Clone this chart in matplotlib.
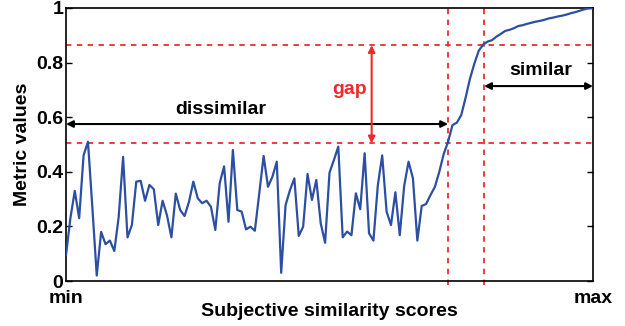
import numpy as np
import matplotlib
matplotlib.use("Agg")
import matplotlib.pyplot as plt

plt.rcParams['font.family'] = ['Liberation Sans', 'DejaVu Sans']
plt.rcParams['font.weight'] = 'bold'

# metric value per sample, sorted by subjective score
metric = [0.095, 0.23, 0.33, 0.23, 0.46, 0.51, 0.27, 0.02, 0.18, 0.135,
          0.148, 0.11, 0.235, 0.455, 0.16, 0.205, 0.364, 0.367, 0.294, 0.352,
          0.336, 0.205, 0.294, 0.24, 0.16, 0.32, 0.26, 0.238, 0.29, 0.364,
          0.303, 0.285, 0.294, 0.272, 0.187, 0.358, 0.42, 0.217, 0.48, 0.26,
          0.254, 0.189, 0.199, 0.184, 0.32, 0.458, 0.345, 0.382, 0.437, 0.03,
          0.278, 0.333, 0.376, 0.165, 0.199, 0.392, 0.297, 0.37, 0.211, 0.14,
          0.397, 0.443, 0.492, 0.16, 0.181, 0.168, 0.321, 0.263, 0.468, 0.175,
          0.148, 0.35, 0.46, 0.254, 0.205, 0.325, 0.168, 0.348, 0.437, 0.376,
          0.148, 0.275, 0.282, 0.315, 0.345, 0.40, 0.465, 0.51, 0.571, 0.58,
          0.608, 0.672, 0.742, 0.797, 0.844, 0.866, 0.877, 0.882, 0.895, 0.905,
          0.916, 0.92, 0.926, 0.934, 0.937, 0.942, 0.946, 0.95, 0.953, 0.957,
          0.962, 0.965, 0.969, 0.972, 0.976, 0.981, 0.985, 0.99, 0.995, 0.999,
          1.0]

x = np.arange(len(metric))
xmax = len(metric) - 1

# thresholds
low_thr = 0.504
high_thr = 0.864
x_low = 87
x_high = 95.2
gap_x = 69.6
dis_y = 0.575
sim_y = 0.714

blue = '#2c4fa3'
red = '#ee2b2b'

fig = plt.figure(figsize=(6.25, 3.26), dpi=100)
ax = fig.add_axes([0.1056, 0.138, 0.8432, 0.8375])

ax.plot(x, metric, color=blue, lw=1.6, zorder=3)

dash = (0, (3, 3))
ax.axhline(low_thr, color=red, lw=1.3, ls=dash)
ax.axhline(high_thr, color=red, lw=1.3, ls=dash)
ax.axvline(x_low, ymin=-0.015, ymax=1, color=red, lw=1.3, ls=dash, clip_on=False)
ax.axvline(x_high, ymin=-0.015, ymax=1, color=red, lw=1.3, ls=dash, clip_on=False)

arrow = dict(arrowstyle='<|-|>', color='black', lw=1.5, mutation_scale=10, shrinkA=0, shrinkB=0)
ax.annotate('', xy=(0, dis_y), xytext=(x_low, dis_y), arrowprops=arrow)
ax.annotate('', xy=(x_high, sim_y), xytext=(xmax, sim_y), arrowprops=arrow)
red_arrow = dict(arrow, color=red)
ax.annotate('', xy=(gap_x, low_thr), xytext=(gap_x, high_thr), arrowprops=red_arrow)

ax.text(35.3, 0.63, 'dissimilar', ha='center', va='center', fontsize=14, fontweight='bold')
ax.text(64.6, 0.70, 'gap', ha='center', va='center', fontsize=14, fontweight='bold', color=red)
ax.text(108.2, 0.77, 'similar', ha='center', va='center', fontsize=14, fontweight='bold')

ax.set_xlim(0, xmax)
ax.set_ylim(0, 1)
ax.set_xticks([0, xmax])
ax.set_xticklabels(['min', 'max'])
ax.set_yticks([0, 0.2, 0.4, 0.6, 0.8, 1])
ax.set_yticklabels(['0', '0.2', '0.4', '0.6', '0.8', '1'])
ax.tick_params(direction='in', length=4, labelsize=14, right=True, width=1, pad=2)
ax.tick_params(axis='x', length=0, pad=6.5)
for s in ax.spines.values():
    s.set_linewidth(1.2)

ax.set_xlabel('Subjective similarity scores', fontsize=14, fontweight='bold', labelpad=-3)
ax.set_ylabel('Metric values', fontsize=14, fontweight='bold', labelpad=4)

fig.savefig('out.png', dpi=100)
